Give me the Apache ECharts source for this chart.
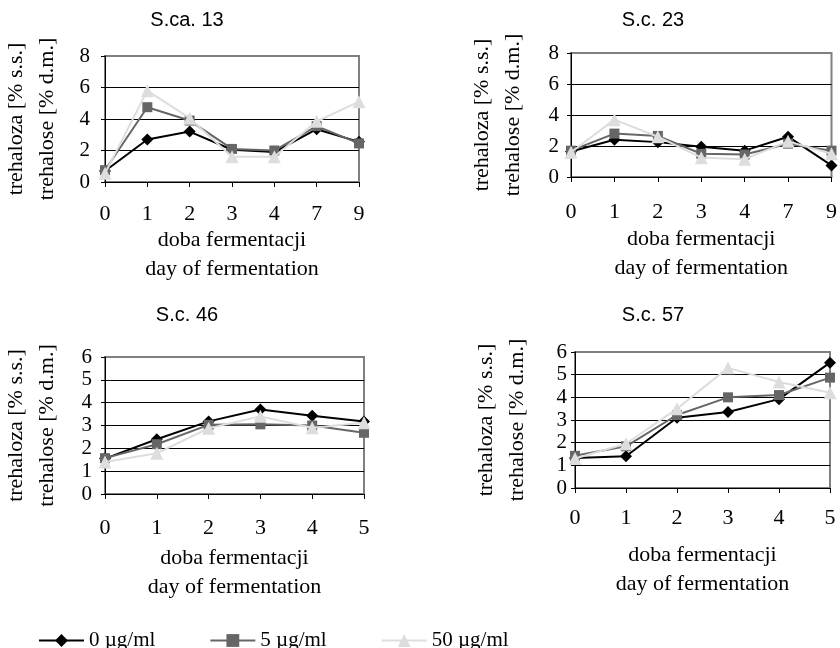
<!DOCTYPE html>
<html>
<head>
<meta charset="utf-8">
<script src="https://cdn.jsdelivr.net/npm/echarts@6/dist/echarts.min.js"></script>
<style>
  html, body { margin: 0; padding: 0; background: #fff; }
  #main { width: 840px; height: 648px; }
</style>
</head>
<body>
<div id="main"></div>
<script>
// dni fermentacji
var days79 = ['0', '1', '2', '3', '4', '7', '9'];
var days5 = ['0', '1', '2', '3', '4', '5'];

// S.ca. 13
var sca13_0 = [0.7, 2.7, 3.2, 2.05, 1.9, 3.35, 2.55];
var sca13_5 = [0.75, 4.75, 3.9, 2.1, 2.0, 3.55, 2.45];
var sca13_50 = [0.55, 5.8, 4.05, 1.6, 1.6, 3.85, 5.1];
// S.c. 23
var sc23_0 = [1.65, 2.4, 2.25, 1.95, 1.7, 2.6, 0.75];
var sc23_5 = [1.7, 2.8, 2.65, 1.5, 1.45, 2.15, 1.7];
var sc23_50 = [1.6, 3.7, 2.6, 1.25, 1.15, 2.3, 1.5];
// S.c. 46
var sc46_0 = [1.55, 2.4, 3.18, 3.7, 3.43, 3.18];
var sc46_5 = [1.57, 2.18, 3.03, 3.05, 3.0, 2.68];
var sc46_50 = [1.4, 1.78, 2.88, 3.4, 2.9, 3.12];
// S.c. 57
var sc57_0 = [1.32, 1.4, 3.1, 3.35, 3.92, 5.53];
var sc57_5 = [1.42, 1.84, 3.22, 4.0, 4.1, 4.87];
var sc57_50 = [1.3, 1.95, 3.5, 5.3, 4.68, 4.2];

var legendNames = ['0 µg/ml', '5 µg/ml', '50 µg/ml'];
var titles = ['S.ca. 13', 'S.c. 23', 'S.c. 46', 'S.c. 57'];

var SERIF = '"Liberation Serif", "Times New Roman", serif';
var SANS = '"Liberation Sans", Arial, sans-serif';

// wygląd serii: czarny romb, szary kwadrat, jasny trójkąt
var looks = [
  { color: '#000000', symbol: 'diamond', size: 12 },
  { color: '#666666', symbol: 'rect', size: 10 },
  { color: '#dddddd', symbol: 'triangle', size: 13 }
];

// pozycje wykresów
var panels = [
  { left: 98, top: 56, width: 261, height: 126, cats: days79, max: 8, interval: 2,
    yMargin: 15, xMargin: 21, xNameGap: 43, data: [sca13_0, sca13_5, sca13_50], tx: 187, ty: 20 },
  { left: 571, top: 53, width: 262, height: 124, cats: days79, max: 8, interval: 2,
    yMargin: 12, xMargin: 24, xNameGap: 48, data: [sc23_0, sc23_5, sc23_50], tx: 653, ty: 20 },
  { left: 102, top: 357, width: 262, height: 137, cats: days5, max: 6, interval: 1,
    yMargin: 13, xMargin: 23, xNameGap: 50, data: [sc46_0, sc46_5, sc46_50], tx: 187, ty: 315 },
  { left: 575, top: 352, width: 255, height: 136, cats: days5, max: 6, interval: 1,
    yMargin: 8, xMargin: 19, xNameGap: 53, data: [sc57_0, sc57_5, sc57_50], tx: 653, ty: 315 }
];

var grids = [], xAxes = [], yAxes = [], series = [], graphics = [];

panels.forEach(function (p, i) {
  grids.push({
    left: p.left, top: p.top, width: p.width, height: p.height,
    show: true, borderColor: '#808080', borderWidth: 2, backgroundColor: 'transparent'
  });
  xAxes.push({
    type: 'category', gridIndex: i, data: p.cats, boundaryGap: false,
    name: 'doba fermentacji\nday of fermentation', nameLocation: 'middle', nameGap: p.xNameGap,
    nameTextStyle: { fontFamily: SERIF, fontSize: 22, color: '#000', lineHeight: 29 },
    axisLine: { lineStyle: { color: '#000', width: 1 } },
    axisTick: { show: true, length: 5, alignWithLabel: true, lineStyle: { color: '#000' } },
    axisLabel: { fontFamily: SERIF, fontSize: 22, color: '#000', margin: p.xMargin, interval: 0 },
    splitLine: { show: false }
  });
  var n = p.max / p.interval + 1;
  var lineColors = [];
  for (var k = 0; k < n - 1; k++) lineColors.push('#000');
  lineColors.push('rgba(0,0,0,0)');
  yAxes.push({
    type: 'value', gridIndex: i, min: 0, max: p.max, interval: p.interval,
    name: 'trehaloza [% s.s.]\ntrehalose [% d.m.]', nameLocation: 'middle', nameGap: 42,
    nameTextStyle: { fontFamily: SERIF, fontSize: 22, color: '#000', lineHeight: 31 },
    axisLine: { show: true, lineStyle: { color: '#000', width: 1 } },
    axisTick: { show: true, length: 4, lineStyle: { color: '#000' } },
    axisLabel: { fontFamily: SERIF, fontSize: 21, color: '#000', margin: p.yMargin },
    splitLine: { show: true, lineStyle: { color: lineColors, width: 1 } }
  });
  p.data.forEach(function (vals, s) {
    var lk = looks[s];
    series.push({
      name: legendNames[s], type: 'line', xAxisIndex: i, yAxisIndex: i,
      data: vals, symbol: lk.symbol, symbolSize: lk.size, showAllSymbol: true,
      lineStyle: { color: lk.color, width: 2 },
      itemStyle: { color: lk.color },
      animation: false, z: 3 + s
    });
  });
  graphics.push({
    type: 'text', x: p.tx, y: p.ty,
    style: { text: titles[i], fontFamily: SANS, fontSize: 20, fill: '#000',
      textAlign: 'center', textVerticalAlign: 'middle' }
  });
});

var chart = echarts.init(document.getElementById('main'), null, { renderer: 'canvas' });
chart.setOption({
  backgroundColor: '#fff',
  animation: false,
  grid: grids,
  xAxis: xAxes,
  yAxis: yAxes,
  series: series,
  graphic: graphics,
  legend: {
    data: legendNames, left: 33, top: 625, itemWidth: 45, itemHeight: 16, itemGap: 54,
    textStyle: { fontFamily: SERIF, fontSize: 21, color: '#000' },
    selectedMode: false
  }
});
</script>
</body>
</html>
